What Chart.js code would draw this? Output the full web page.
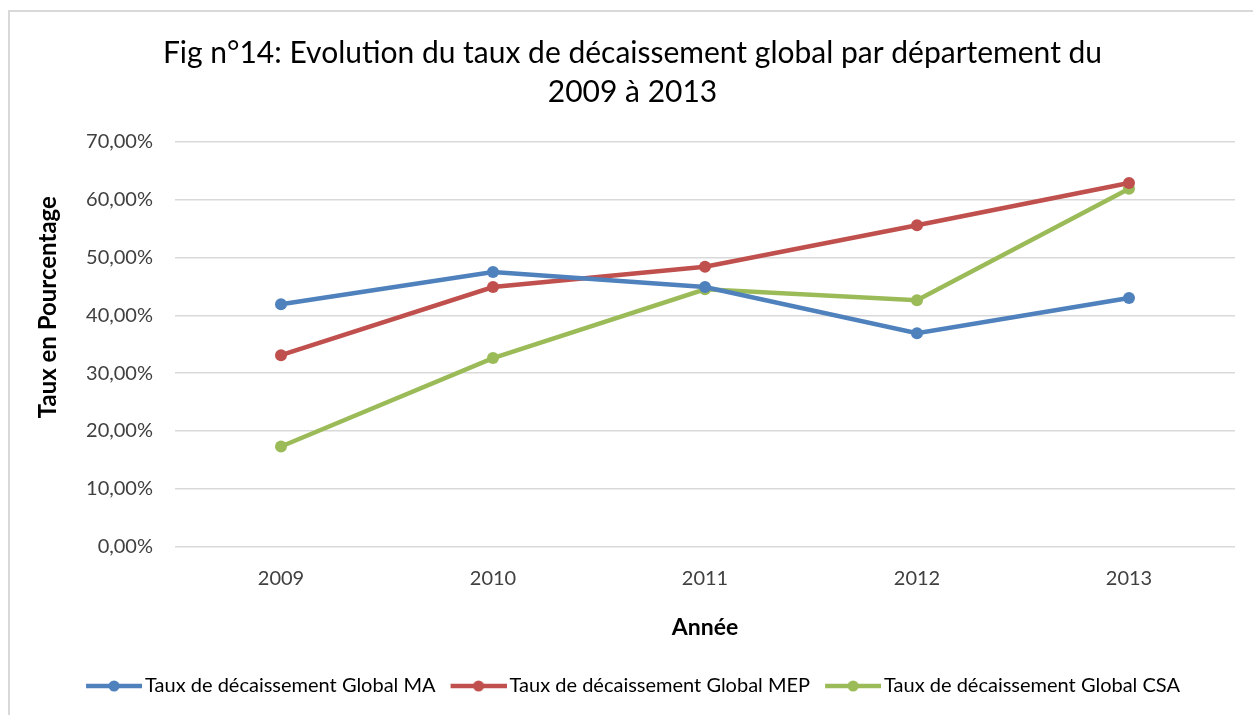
<!DOCTYPE html>
<html>
<head>
<meta charset="utf-8">
<script src="https://cdn.jsdelivr.net/npm/chart.js@4.4.0/dist/chart.umd.min.js"></script>
<style>
  body { margin: 0; background: #fff; }
  #frame { position: absolute; left: 8px; top: 10px; width: 1270px; height: 730px; border: 2px solid #d9d9d9; }
  #wrap { position: absolute; left: 0; top: 0; width: 1253px; height: 715px; }
</style>
</head>
<body>
<div id="frame"></div>
<div id="wrap"><canvas id="chart" width="1253" height="715"></canvas></div>
<script>
const years = ['2009', '2010', '2011', '2012', '2013'];
const tauxMA = [41.9, 47.5, 44.9, 36.9, 43.0];
const tauxMEP = [33.1, 44.9, 48.4, 55.6, 62.9];
const tauxCSA = [17.3, 32.6, 44.5, 42.6, 61.9];
const seriesNames = ['Taux de décaissement Global MA', 'Taux de décaissement Global MEP', 'Taux de décaissement Global CSA'];
const colors = ['#4f81bd', '#c0504d', '#9bbb59'];
const yTitle = 'Taux en Pourcentage';

const font = 'Lato, "Open Sans", sans-serif';

// line+dot picture for the legend, padded on the left so it sits close to its text
function legendMark(color) {
  const c = document.createElement('canvas');
  c.width = 64; c.height = 14;
  const g = c.getContext('2d');
  g.strokeStyle = color; g.lineWidth = 4.5;
  g.beginPath(); g.moveTo(8, 7); g.lineTo(64, 7); g.stroke();
  g.fillStyle = color;
  g.beginPath(); g.arc(36, 7, 5.5, 0, Math.PI * 2); g.fill();
  return c;
}

// y title sits a bit above the middle of the axis in the original, so draw it here
const yTitlePlugin = {
  id: 'yTitle',
  afterDraw(chart) {
    const ctx = chart.ctx;
    const a = chart.chartArea;
    ctx.save();
    ctx.translate(48, (a.top + a.bottom) / 2 - 37);
    ctx.rotate(-Math.PI / 2);
    ctx.font = 'bold 24px ' + font;
    ctx.fillStyle = '#000';
    ctx.textAlign = 'center';
    ctx.textBaseline = 'middle';
    ctx.fillText(yTitle, 0, 0);
    ctx.restore();
  }
};

const ds = (label, data, color) => ({
  label, data,
  borderColor: color, backgroundColor: color,
  borderWidth: 4.5, pointRadius: 6, pointHoverRadius: 6,
  pointBackgroundColor: color, pointBorderWidth: 0,
  tension: 0, fill: false,
  pointStyle: 'circle'
});

new Chart(document.getElementById('chart'), {
  type: 'line',
  data: {
    labels: years,
    datasets: [
      ds(seriesNames[0], tauxMA, colors[0]),
      ds(seriesNames[1], tauxMEP, colors[1]),
      ds(seriesNames[2], tauxCSA, colors[2])
    ]
  },
  plugins: [yTitlePlugin],
  options: {
    responsive: false,
    animation: false,
    layout: { padding: { left: 30, right: 18, top: 0, bottom: 9 } },
    plugins: {
      title: {
        display: true,
        text: ['Fig n°14: Evolution du taux de décaissement global par département du', '2009 à 2013'],
        font: { family: font, size: 30, weight: 'normal', lineHeight: 1.3 },
        color: '#000',
        padding: { top: 34, bottom: 30 }
      },
      legend: {
        position: 'bottom',
        labels: {
          font: { family: font, size: 20 },
          color: '#000',
          usePointStyle: true,
          pointStyleWidth: 50,
          padding: 14,
          generateLabels: chart => chart.data.datasets.map((d, i) => ({
            text: d.label,
            pointStyle: legendMark(colors[i]),
            datasetIndex: i,
            lineWidth: 0,
            strokeStyle: 'transparent',
            fillStyle: colors[i]
          }))
        }
      },
      tooltip: { enabled: false }
    },
    scales: {
      x: {
        offset: true,
        grid: { display: false, drawTicks: false },
        border: { display: false },
        ticks: { font: { family: font, size: 20 }, color: '#404040', padding: 20 },
        title: {
          display: true, text: 'Année',
          font: { family: font, size: 23, weight: 'bold' }, color: '#000',
          padding: { top: 3, bottom: 21 }
        }
      },
      y: {
        min: 0, max: 70,
        ticks: {
          stepSize: 10,
          font: { family: font, size: 20 }, color: '#404040', padding: 22,
          callback: v => v.toFixed(2).replace('.', ',') + '%'
        },
        grid: { color: '#d9d9d9', lineWidth: 1.5, drawTicks: false },
        border: { display: false },
        afterFit: s => { s.width = 145; }
      }
    }
  }
});
</script>
</body>
</html>
